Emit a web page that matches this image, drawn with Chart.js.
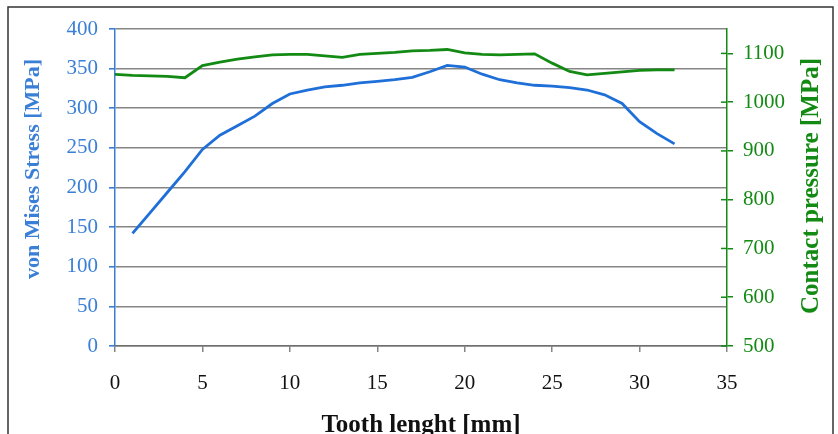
<!DOCTYPE html>
<html>
<head>
<meta charset="utf-8">
<script src="https://cdn.jsdelivr.net/npm/chart.js@4"></script>
<style>
  html, body { margin: 0; padding: 0; background: #fff; }
  canvas { display: block; }
</style>
</head>
<body>
<canvas id="grafico" width="838" height="434"></canvas>
<script>
// dati
const lunghezza_mises = [1,2,3,4,5,6,7,8,9,10,11,12,13,14,15,16,17,18,19,20,21,22,23,24,25,26,27,28,29,30,31,32]
const mises = [142,168,194,220,248,266,278,290,306,318,323,327,329,332,334,336,339,346,354,352,343,336,332,329,328,326,323,317,306,283,268,255]

const lunghezza_pressione = [0,1,2,3,4,5,6,7,8,9,10,11,12,13,14,15,16,17,18,19,20,21,22,23,24,25,26,27,28,29,30,31,32]
const pressione = [1057,1055,1054,1053,1050,1075,1082,1088,1093,1097,1098,1098,1095,1092,1098,1100,1102,1105,1106,1108,1101,1098,1097,1098,1099,1080,1063,1056,1059,1062,1065,1066,1066]

const tick_x = [0,5,10,15,20,25,30,35]

const blu = '#1f6fd8'
const blu_testo = '#3a7fd6'
const verde = '#138a13'
const grigio = '#858585'
const font_serif = "'Liberation Serif', 'Times New Roman', serif"

const punti = (xs, ys) => xs.map((x, i) => ({x: x, y: ys[i]}))

//Titolo verticale letto dal basso verso l'alto
const titolo_verticale = (ctx, testo, x, y, colore, size) => {
    ctx.save()
    ctx.translate(x, y)
    ctx.rotate(-Math.PI / 2)
    ctx.fillStyle = colore
    ctx.font = "bold " + size + "px " + font_serif
    ctx.textAlign = 'center'
    ctx.textBaseline = 'middle'
    ctx.fillText(testo, 0, 0)
    ctx.restore()
}

//Plugin per cornice, titoli degli assi y e tacche interne
const extra = {
    id: 'extra',
    beforeDraw(chart) {
        const ctx = chart.ctx
        ctx.save()
        ctx.fillStyle = '#fff'
        ctx.fillRect(0, 0, chart.width, chart.height)
        ctx.strokeStyle = '#333'
        ctx.lineWidth = 1.5
        ctx.strokeRect(8, 7, 825, 440)
        ctx.restore()
    },
    afterDraw(chart) {
        const ctx = chart.ctx
        const y2 = chart.scales.y2
        const area = chart.chartArea
        ctx.save()
        ctx.strokeStyle = verde
        ctx.lineWidth = 1.5
        y2.ticks.forEach(t => {
            const py = y2.getPixelForValue(t.value)
            ctx.beginPath()
            ctx.moveTo(area.right - 6, py)
            ctx.lineTo(area.right, py)
            ctx.stroke()
        })
        ctx.restore()
        titolo_verticale(ctx, 'von Mises Stress [MPa]', 33, 169, blu_testo, 22)
        titolo_verticale(ctx, 'Contact pressure [MPa]', 812, 186, verde, 25)
    }
}

new Chart(document.querySelector('#grafico'), {
    type: 'line',
    data: {
        datasets: [{
            label: 'von Mises Stress',
            data: punti(lunghezza_mises, mises),
            borderColor: blu,
            borderWidth: 2.8,
            pointRadius: 0,
            fill: false,
            tension: 0,
            yAxisID: 'y'
        }, {
            label: 'Contact pressure',
            data: punti(lunghezza_pressione, pressione),
            borderColor: verde,
            borderWidth: 2.8,
            pointRadius: 0,
            fill: false,
            tension: 0,
            yAxisID: 'y2'
        }]
    },
    options: {
        responsive: false,
        animation: false,
        layout: { padding: { top: 29, left: 0, right: 0, bottom: 0 } },
        plugins: {
            legend: { display: false },
            tooltip: { enabled: false }
        },
        scales: {
            x: {
                type: 'linear',
                min: 0,
                max: 35,
                afterBuildTicks: s => { s.ticks = tick_x.map(v => ({value: v})) },
                afterFit: s => { s.height = 88 },
                grid: { drawOnChartArea: false, drawTicks: true, tickLength: 6, tickColor: grigio, lineWidth: 1.5 },
                border: { color: '#6f6f6f', width: 1.5 },
                ticks: { color: '#111', padding: 19, font: { family: font_serif, size: 21 }, callback: v => String(v) },
                title: {
                    display: true,
                    text: 'Tooth lenght [mm]',
                    color: '#111',
                    font: { family: font_serif, size: 25, weight: 'bold', lineHeight: 0.7 },
                    padding: { top: 0, bottom: 0 }
                }
            },
            y: {
                position: 'left',
                min: 0,
                max: 400,
                afterFit: s => { s.width = 115 },
                grid: { color: grigio, lineWidth: 1.6, tickColor: blu_testo, tickLength: 6 },
                border: { color: blu_testo, width: 1.5 },
                ticks: { stepSize: 50, color: blu_testo, padding: 11, font: { family: font_serif, size: 21 }, callback: v => String(v) }
            },
            y2: {
                position: 'right',
                min: 500,
                max: 1150,
                afterBuildTicks: s => { s.ticks = s.ticks.filter(t => t.value <= 1100) },
                afterFit: s => { s.width = 111 },
                grid: { drawOnChartArea: false, tickColor: verde, tickLength: 6, lineWidth: 1.5 },
                border: { color: verde, width: 1.5 },
                ticks: { stepSize: 100, color: verde, padding: 10, font: { family: font_serif, size: 21 }, callback: v => String(v) }
            }
        }
    },
    plugins: [extra]
})
</script>
</body>
</html>
